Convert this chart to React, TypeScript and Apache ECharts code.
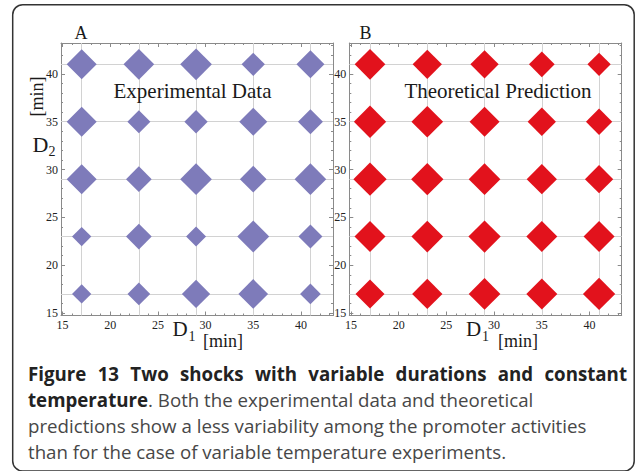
import React, { useEffect, useRef } from "react";
import * as echarts from "echarts";

// Shock durations used on both axes (minutes)
const durations = [17, 23, 29, 35, 41];
// Row order of the size tables below (D2, top to bottom)
const rowsD2 = [41, 35, 29, 23, 17];

// Diamond sizes (px) showing promoter activity, rows = D2, columns = D1
const experimentalSize = [
  [30, 30.7, 31.7, 23.3, 28],
  [30, 23, 23.3, 28, 25],
  [30, 25.7, 31.7, 26.7, 31.7],
  [19.3, 25.7, 20, 32, 24],
  [19.3, 22.7, 28.3, 29.7, 20.7],
];
const theoreticalSize = [
  [30.7, 29.3, 28.3, 25.7, 23.3],
  [32.3, 31.7, 30, 28.3, 26.3],
  [33.3, 32.3, 31.7, 30.3, 28.3],
  [31, 31.7, 32.3, 31, 31],
  [29, 30.3, 31.7, 31, 32.3],
];

const majorTicks = [15, 20, 25, 30, 35, 40];
const minorTicks = [15, 16, 17, 18, 19, 20, 21, 22, 23, 24, 25, 26, 27, 28, 29, 30, 31, 32, 33, 34, 35, 36, 37, 38, 39, 40, 41, 42, 43];

const xRange = [14.83, 43.37];
const yRange = [14.75, 43.23];

const captionTitle = "Figure 13 Two shocks with variable durations and constant";
const captionBold2 = "temperature";
const captionRest2 = ". Both the experimental data and theoretical";
const captionLine3 = "predictions show a less variability among the promoter activities";
const captionLine4 = "than for the case of variable temperature experiments.";

const FRAME = "#8a8a8a";
const GRIDLINE = "#d2d2d2";
const SERIF = "'Liberation Serif', 'Times New Roman', serif";
const SANS = "'Open Sans', 'Noto Sans', sans-serif";
const CAP_SIZE = 18.7;

function toPoints(table: number[][]) {
  const pts: number[][] = [];
  table.forEach((row, i) => {
    row.forEach((size, j) => pts.push([durations[j], rowsD2[i], size]));
  });
  return pts;
}

function sideAxes(kind: "x" | "y", gridIndex: number, range: number[], labelMargin: number) {
  const mainPos = kind === "x" ? "bottom" : "left";
  const otherPos = kind === "x" ? "top" : "right";
  const make = (position: string, ticks: number[], len: number, showLine: boolean, showLabel: boolean) => ({
    type: "value",
    gridIndex,
    min: range[0],
    max: range[1],
    position,
    axisLine: { show: showLine, onZero: false, lineStyle: { color: FRAME, width: 1 } },
    axisTick: { show: true, inside: true, length: len, customValues: ticks, lineStyle: { color: FRAME, width: 1 } },
    axisLabel: showLabel
      ? { show: true, customValues: majorTicks, fontFamily: SERIF, fontSize: 12, color: "#222", margin: labelMargin }
      : { show: false },
    splitLine: { show: false },
  });
  return [
    make(mainPos, majorTicks, 4, true, true),
    make(mainPos, minorTicks, 2, false, false),
    make(otherPos, majorTicks, 4, true, false),
    make(otherPos, minorTicks, 2, false, false),
  ];
}

function gridLines(g: number) {
  return {
    type: "scatter",
    xAxisIndex: g * 4,
    yAxisIndex: g * 4,
    data: [],
    z: 1,
    silent: true,
    markLine: {
      silent: true,
      z: 1,
      symbol: ["none", "none"],
      label: { show: false },
      lineStyle: { color: GRIDLINE, width: 1, type: "solid" },
      emphasis: { disabled: true },
      data: [...durations.map((v) => ({ xAxis: v })), ...durations.map((v) => ({ yAxis: v }))],
    },
  };
}

function diamonds(g: number, table: number[][], color: string) {
  return {
    type: "scatter",
    xAxisIndex: g * 4,
    yAxisIndex: g * 4,
    symbol: "diamond",
    symbolSize: (v: number[]) => v[2],
    itemStyle: { color, opacity: 1 },
    z: 3,
    silent: true,
    data: toPoints(table),
  };
}

function measure(text: string, font: string) {
  const ctx = document.createElement("canvas").getContext("2d")!;
  ctx.font = font;
  return ctx.measureText(text).width;
}

function txt(text: string, x: number, y: number, size: number, opts: any = {}) {
  return {
    type: "text",
    x,
    y,
    rotation: opts.rotation || 0,
    z: 10,
    silent: true,
    style: {
      text,
      fontFamily: opts.family || SERIF,
      fontSize: size,
      fontWeight: opts.weight || "normal",
      fill: opts.color || "#1a1a1a",
      align: opts.align || "left",
      verticalAlign: "middle",
    },
  };
}

function captionGraphics() {
  const left = 28;
  const right = 627;
  const boldFont = `bold ${CAP_SIZE}px 'Open Sans'`;
  const words = captionTitle.split(" ");
  const widths = words.map((w) => measure(w, boldFont));
  const total = widths.reduce((a, b) => a + b, 0);
  const gap = Math.max(measure(" ", boldFont), (right - left - total) / (words.length - 1));
  const out: any[] = [];
  let x = left;
  words.forEach((w, i) => {
    out.push(txt(w, x, 373, CAP_SIZE, { family: SANS, weight: "bold", color: "#222" }));
    x += widths[i] + gap;
  });
  const bw = measure(captionBold2, boldFont);
  out.push(txt(captionBold2, left, 399, CAP_SIZE, { family: SANS, weight: "bold", color: "#222" }));
  out.push(txt(captionRest2, left + bw, 399, CAP_SIZE, { family: SANS, color: "#474747" }));
  out.push(txt(captionLine3, left, 425, CAP_SIZE, { family: SANS, color: "#474747" }));
  out.push(txt(captionLine4, left, 451, CAP_SIZE, { family: SANS, color: "#474747" }));
  return out;
}

export default function App() {
  const ref = useRef<HTMLDivElement>(null);
  useEffect(() => {
    if (!ref.current) return;
    const chart = echarts.init(ref.current, null, { renderer: "svg" });
    chart.setOption({
      animation: false,
      backgroundColor: "#ffffff",
      grid: [
        { left: 61, top: 43, width: 272, height: 272.5 },
        { left: 349.3, top: 43, width: 272.4, height: 272.5 },
      ],
      xAxis: [...sideAxes("x", 0, xRange, 3), ...sideAxes("x", 1, xRange, 3)],
      yAxis: [...sideAxes("y", 0, yRange, 3), ...sideAxes("y", 1, yRange, 3)],
      series: [
        gridLines(0),
        gridLines(1),
        diamonds(0, experimentalSize, "#7e7bba"),
        diamonds(1, theoreticalSize, "#e2121c"),
      ],
      graphic: [
        {
          type: "rect",
          silent: true,
          z: 0,
          shape: { x: 12.7, y: 4.7, width: 621.5, height: 466.3, r: 10 },
          style: { fill: "none", stroke: "#333", lineWidth: 1.5 },
        },
        txt("A", 81, 33, 18, { align: "center" }),
        txt("B", 365.5, 33, 18, { align: "center" }),
        txt("Experimental Data", 192.5, 91, 21, { align: "center" }),
        txt("Theoretical Prediction", 498, 91, 21, { align: "center" }),
        // vertical axis title of panel A
        txt("D", 32.5, 144.5, 22),
        txt("2", 48.5, 151, 14),
        txt("[min]", 37, 96.5, 18, { align: "center", rotation: Math.PI / 2 }),
        // horizontal axis titles
        txt("D", 172.5, 329, 21),
        txt("1", 188.5, 336, 14),
        txt("[min]", 203, 341, 18),
        txt("D", 466, 329, 21),
        txt("1", 482, 336, 14),
        txt("[min]", 498, 341, 18),
        ...captionGraphics(),
      ],
    });
    return () => chart.dispose();
  }, []);
  return <div ref={ref} style={{ position: "fixed", left: 0, top: 0, width: 635, height: 471 }} />;
}
